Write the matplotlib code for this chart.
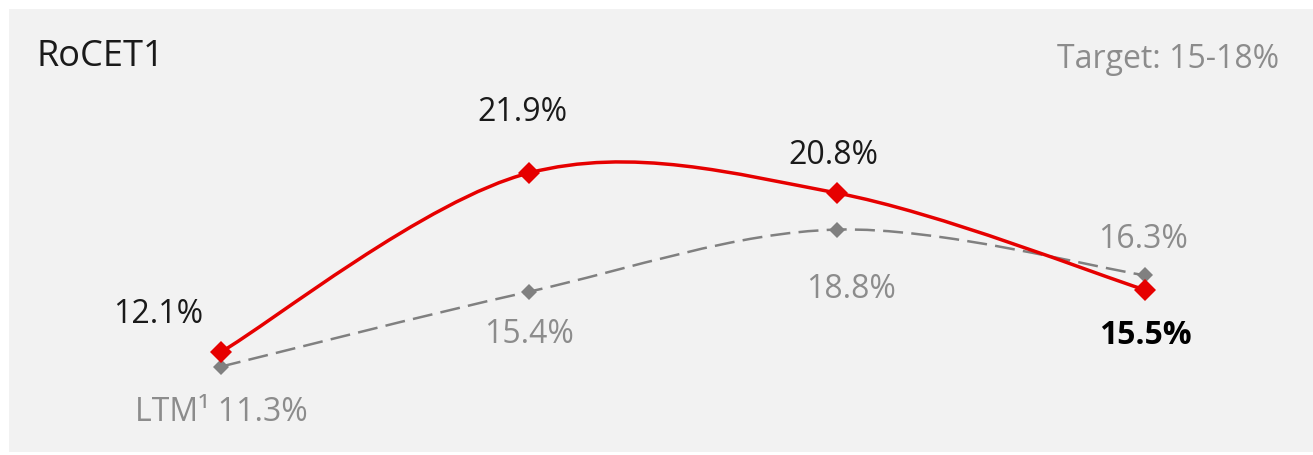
import matplotlib
matplotlib.use("Agg")
import matplotlib.pyplot as plt
import numpy as np
from matplotlib.path import Path
from matplotlib.patches import PathPatch, Rectangle

plt.rcParams["font.family"] = ["Open Sans", "DejaVu Sans"]

# data
periods = [0, 1, 2, 3]
rocet1 = [12.1, 21.9, 20.8, 15.5]
rocet1_ltm = [11.3, 15.4, 18.8, 16.3]
red_labels = ["12.1%", "21.9%", "20.8%", "15.5%"]
grey_labels = ["LTM\u00b9 11.3%", "15.4%", "18.8%", "16.3%"]

RED = "#e60000"
GREY = "#808080"
GREY_TXT = "#8c8c8c"
BLACK = "#1a1a1a"

W, H = 1313, 455
fig = plt.figure(figsize=(W / 100, H / 100), dpi=100)
fig.patch.set_facecolor("white")
fig.patches.append(Rectangle((9 / W, 3 / H), (W - 9) / W, (H - 12) / H,
                             transform=fig.transFigure, facecolor="#f2f2f2",
                             edgecolor="none", zorder=-1))

ax = fig.add_axes([0, 0, 1, 1])
ax.set_facecolor("none")
ax.set_xlim(-221 / 308, (W - 221) / 308)
ax.set_ylim(12.1 - 103 / 18.27, 12.1 + 352 / 18.27)
ax.axis("off")


def smooth_path(x, y):
    # excel style smoothed line: cubic bezier, control points at 1/6 of neighbour chord
    x = np.asarray(x, float)
    y = np.asarray(y, float)
    n = len(x)
    verts = [(x[0], y[0])]
    codes = [Path.MOVETO]
    for i in range(n - 1):
        i0 = max(i - 1, 0)
        i3 = min(i + 2, n - 1)
        c1 = (x[i] + (x[i + 1] - x[i0]) / 6, y[i] + (y[i + 1] - y[i0]) / 6)
        c2 = (x[i + 1] - (x[i3] - x[i]) / 6, y[i + 1] - (y[i3] - y[i]) / 6)
        verts += [c1, c2, (x[i + 1], y[i + 1])]
        codes += [Path.CURVE4] * 3
    return Path(verts, codes)


ax.add_patch(PathPatch(smooth_path(periods, rocet1_ltm), fill=False, edgecolor=GREY,
                       lw=1.8, linestyle=(0, (8, 3.3)), zorder=2))
ax.plot(periods, rocet1_ltm, linestyle="none", marker="D", ms=8.5, mew=0,
        color=GREY, zorder=3)
ax.add_patch(PathPatch(smooth_path(periods, rocet1), fill=False, edgecolor=RED,
                       lw=2.5, zorder=4))
ax.plot(periods, rocet1, linestyle="none", marker="D", ms=11, mew=0,
        color=RED, zorder=5)

# label offsets in pixels (text baseline relative to point)
red_off = [(-63, 29), (-7, 52), (-4, 29), (0, -54)]
grey_off = [(0, -54), (0, -51), (14, -68), (-2, 27)]
for i in periods:
    ax.annotate(red_labels[i], (periods[i], rocet1[i]), xytext=red_off[i],
                textcoords="offset pixels", ha="center", va="baseline",
                fontsize=23, color="black" if i == 3 else BLACK,
                fontweight="bold" if i == 3 else "normal")
    ax.annotate(grey_labels[i], (periods[i], rocet1_ltm[i]), xytext=grey_off[i],
                textcoords="offset pixels", ha="center", va="baseline",
                fontsize=23, color=GREY_TXT)

fig.text(37 / W, (H - 66) / H, "RoCET1", fontsize=26, color=BLACK,
         ha="left", va="baseline")
fig.text(1279 / W, (H - 68) / H, "Target: 15-18%", fontsize=23, color=GREY_TXT,
         ha="right", va="baseline")

fig.savefig("out.png", dpi=100)
